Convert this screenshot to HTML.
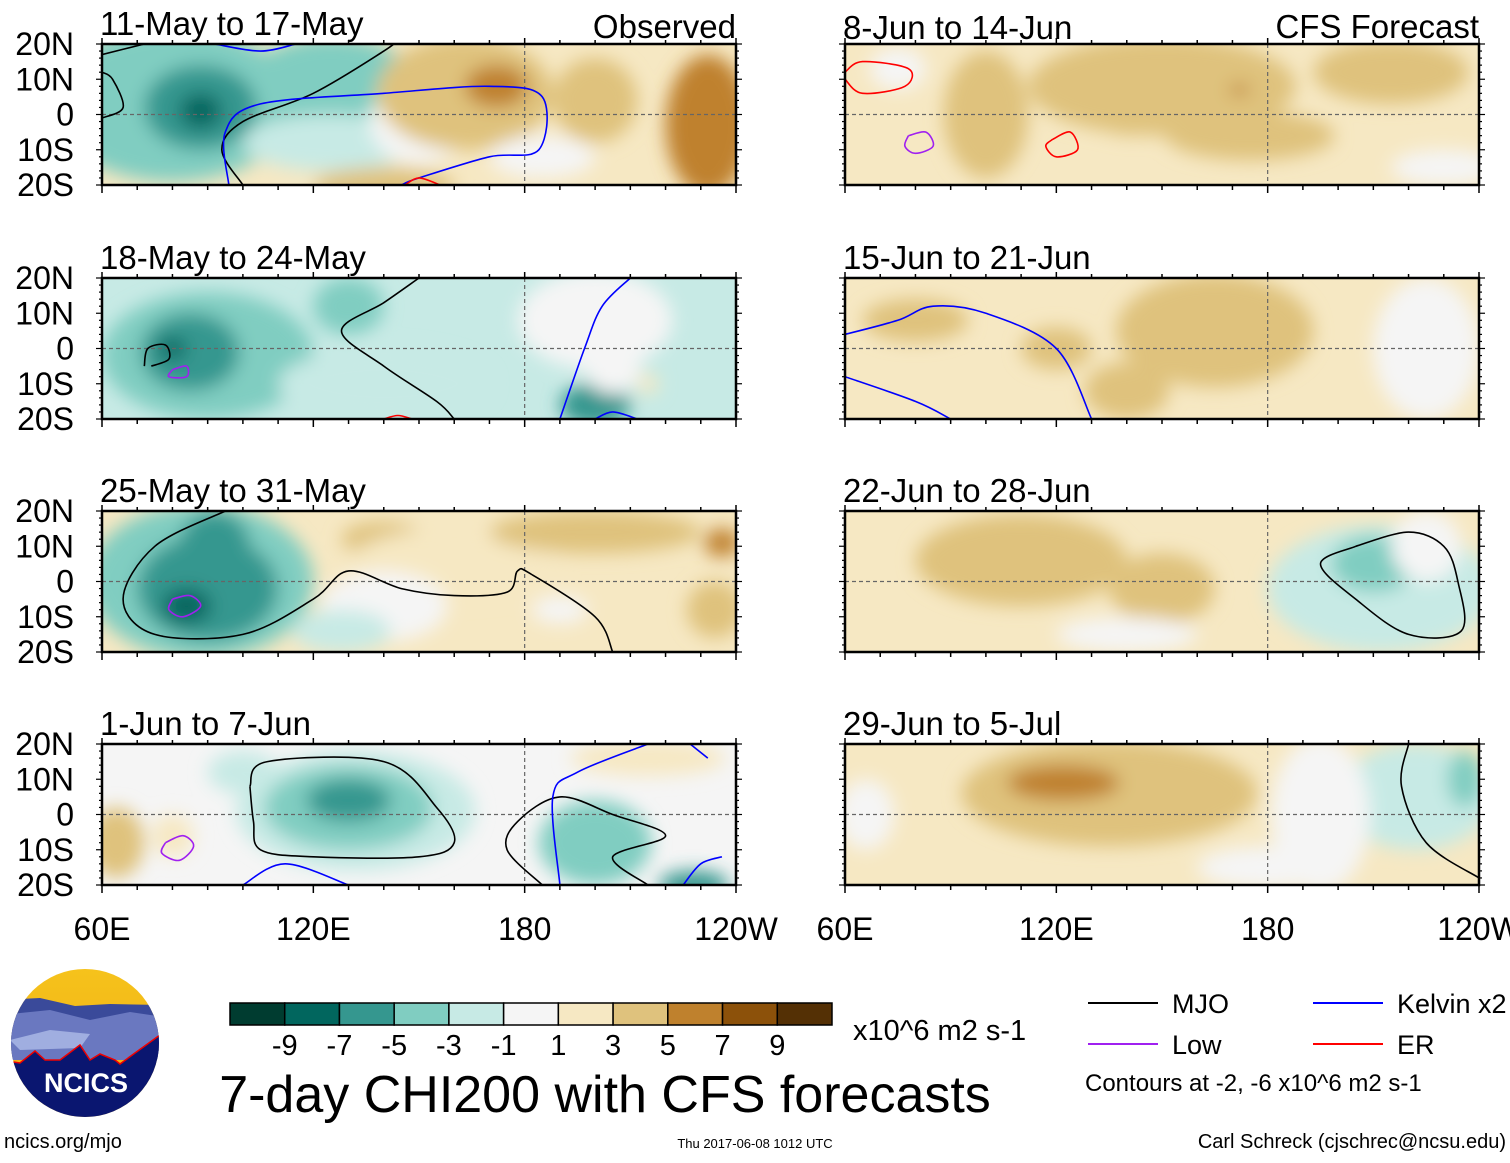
<!DOCTYPE html>
<html><head><meta charset="utf-8">
<style>
body{margin:0;background:#fff;width:1510px;height:1158px;overflow:hidden;font-family:"Liberation Sans",sans-serif}
svg text{font-family:"Liberation Sans",sans-serif}
</style></head>
<body>
<svg id="fig" width="1510" height="1158" viewBox="0 0 1510 1158">
<defs>
<filter id="blur" x="-20%" y="-20%" width="140%" height="140%"><feGaussianBlur stdDeviation="9"/></filter>
<clipPath id="cp"><rect x="0" y="0" width="634" height="141"/></clipPath>
<linearGradient id="sky" x1="0" y1="0" x2="0" y2="1"><stop offset="0" stop-color="#f6c41c"/><stop offset="1" stop-color="#eea812"/></linearGradient>
</defs>
<g id="panels"></g>
<g id="legend-area"></g>
</svg>
<script>
// Colorbar data
const cbLabels = ["-9","-7","-5","-3","-1","1","3","5","7","9"];
const cbColors = ["#003c30","#01665e","#35978f","#80cdc1","#c7eae5","#f5f5f5","#f6e8c3","#dfc27d","#bf812d","#8c510a","#543005"];
// Panel titles
const titles = ["11-May to 17-May","18-May to 24-May","25-May to 31-May","1-Jun to 7-Jun","8-Jun to 14-Jun","15-Jun to 21-Jun","22-Jun to 28-Jun","29-Jun to 5-Jul"];
// Anomaly blobs: [lon, lat, rxDeg, ryDeg, value]
const blobs1 = [[80,3,35,22,-4],[125,8,25,14,-4],[125,-8,25,8,-2],[88,2,16,12,-6],[88,1,6,5,-8],[150,-2,14,12,0],[163,6,25,16,4],[172,8,9,6,6],[200,4,12,12,4],[232,-3,12,20,6],[140,-20,20,5,4],[185,-12,15,6,0]];
const blobs2 = [[90,-2,30,18,-4],[85,-1,14,11,-6],[80,0,4,3,-8],[130,12,10,8,-4],[140,-10,30,10,-2],[200,-16,10,6,-6],[200,8,22,14,0],[205,-5,8,8,0],[215,-10,3,3,2]];
const blobs3 = [[88,0,32,22,-4],[90,-2,20,15,-6],[92,10,10,10,-6],[84,-7,7,5,-8],[140,12,12,5,4],[160,5,30,10,2],[200,14,30,6,4],[236,11,5,4,6],[234,-8,8,8,4],[140,-7,18,10,0],[190,-8,8,4,0],[128,-14,14,6,-2]];
const blobs4 = [[132,1,34,17,-2],[130,2,24,12,-4],[130,4,12,6,-6],[64,-8,8,10,4],[80,-6,6,6,2],[200,-8,16,12,-4],[228,-20,10,4,-6],[215,16,22,5,2],[100,12,10,6,-2]];
const blobs5 = [[150,8,38,14,4],[215,12,22,9,4],[100,0,12,18,4],[175,-6,24,7,4],[230,-15,15,5,0],[75,13,8,6,0],[172,7,3,1.5,6],[140,2,8,8,4]];
const blobs6 = [[165,5,28,16,4],[80,8,15,6,4],[140,-12,12,8,4],[225,0,15,20,0],[120,0,10,6,4]];
const blobs7 = [[110,6,30,13,4],[150,-2,15,10,4],[212,-2,32,18,-2],[210,5,12,8,-4],[225,10,10,10,0],[140,-15,20,5,0]];
const blobs8 = [[135,6,42,15,4],[122,9,16,5,6],[66,0,8,10,0],[222,5,22,15,-2],[236,10,5,8,-4],[195,0,14,22,0],[180,-15,20,6,0]];
const allBlobs=[blobs1,blobs2,blobs3,blobs4,blobs5,blobs6,blobs7,blobs8];
const bases=[2,-2,2,0,2,2,2,2];
// Contours: [type, [[lon,lat],...]]
const contours1=[["mjo",[[60,-1],[66,2],[63,10],[60,12]]],["mjo",[[60,17],[72,20]]],["mjo",[[100,-20],[94,-10],[100,-2],[120,6],[140,18],[145,22]]],["kelvin",[[96,-20],[95,-5],[105,3],[140,6],[170,8],[185,5],[184,-10],[170,-12],[150,-18],[145,-20]]],["kelvin",[[92,20],[105,18],[115,20]]],["er",[[146,-20],[150,-18],[156,-20]]]];
const contours2=[["mjo",[[150,20],[140,13],[128,5],[140,-5],[155,-15],[160,-20]]],["mjo",[[72,-5],[73,0],[78,1],[79,-3],[74,-5]]],["low",[[80,-6],[84,-5],[84,-8],[79,-8],[80,-6]]],["kelvin",[[210,20],[202,12],[197,0],[190,-20]]],["kelvin",[[200,-20],[205,-18],[212,-20]]],["er",[[140,-20],[144,-19],[148,-20]]]];
const contours3=[["mjo",[[95,20],[75,10],[66,-5],[75,-15],[100,-15],[120,-5],[130,3],[145,-2],[160,-4],[175,-3],[178,3],[182,2],[200,-10],[205,-20]]],["low",[[80,-5],[85,-4],[88,-7],[83,-10],[79,-8],[80,-5]]]];
const contours4=[["mjo",[[102,8],[107,15],[140,15],[155,2],[160,-8],[150,-12],[120,-12],[105,-10],[103,-2],[102,8]]],["mjo",[[185,-20],[175,-10],[178,-2],[190,5],[205,0],[220,-6],[205,-12],[215,-20]]],["low",[[78,-8],[83,-6],[86,-9],[82,-13],[77,-11],[78,-8]]],["kelvin",[[215,20],[195,12],[188,5],[190,-20]]],["kelvin",[[100,-20],[112,-14],[130,-20]]],["kelvin",[[227,20],[232,16]]],["kelvin",[[225,-20],[230,-14],[236,-12]]]];
const contours5=[["er",[[60,12],[65,15],[78,13],[77,8],[65,6],[60,10]]],["low",[[78,-6],[83,-5],[85,-9],[80,-11],[77,-9],[78,-6]]],["er",[[119,-7],[124,-5],[126,-10],[120,-12],[117,-9],[119,-7]]]];
const contours6=[["kelvin",[[60,4],[75,8],[85,12],[100,10],[120,0],[130,-20]]],["kelvin",[[60,-8],[80,-15],[90,-20]]]];
const contours7=[["mjo",[[205,10],[220,14],[230,10],[234,0],[235,-14],[220,-15],[205,-5],[195,5],[205,10]]]];
const contours8=[["mjo",[[220,20],[218,8],[225,-8],[240,-18]]]];
const allContours=[contours1,contours2,contours3,contours4,contours5,contours6,contours7,contours8];
const lineColors={mjo:"#000",low:"#a020f0",kelvin:"#0000ff",er:"#ff0000"};

const NS="http://www.w3.org/2000/svg";
function mk(t,a,p){const e=document.createElementNS(NS,t);for(const k in a)e.setAttribute(k,a[k]);if(p)p.appendChild(e);return e;}
function colorOf(v){let i=Math.floor((v+11)/2);i=Math.max(0,Math.min(10,i));return cbColors[i];}
const W=634,H=141;
const xs=lon=>(lon-60)/180*W;
const ys=lat=>(20-lat)/40*H;
function smooth(pts){
  let d='M'+pts[0][0].toFixed(1)+','+pts[0][1].toFixed(1);
  for(let i=0;i<pts.length-1;i++){
    const p0=pts[Math.max(0,i-1)],p1=pts[i],p2=pts[i+1],p3=pts[Math.min(pts.length-1,i+2)];
    const c1=[p1[0]+(p2[0]-p0[0])/6,p1[1]+(p2[1]-p0[1])/6],c2=[p2[0]-(p3[0]-p1[0])/6,p2[1]-(p3[1]-p1[1])/6];
    d+=` C${c1[0].toFixed(1)},${c1[1].toFixed(1)} ${c2[0].toFixed(1)},${c2[1].toFixed(1)} ${p2[0].toFixed(1)},${p2[1].toFixed(1)}`;
  }
  return d;
}
const panelX=[102,845],panelY=[44,278,511,744];
const root=document.getElementById('panels');
for(let p=0;p<8;p++){
  const col=p<4?0:1,row=p%4;
  const g=mk('g',{transform:`translate(${panelX[col]},${panelY[row]})`},root);
  
  
  const inner=mk('g',{'clip-path':'url(#cp)'},g);
  mk('rect',{x:0,y:0,width:W,height:H,fill:colorOf(bases[p])},inner);
  const bg=mk('g',{filter:'url(#blur)'},inner);
  allBlobs[p].forEach(b=>{
    const e=mk('ellipse',{cx:xs(b[0]),cy:ys(b[1]),rx:b[2]/180*W,ry:b[3]/40*H,fill:colorOf(b[4])},bg);
    
    
  });
  mk('line',{x1:0,y1:ys(0),x2:W,y2:ys(0),stroke:'#666','stroke-dasharray':'4,3','stroke-width':1.2},inner);
  mk('line',{x1:xs(180),y1:0,x2:xs(180),y2:H,stroke:'#666','stroke-dasharray':'4,3','stroke-width':1.2},inner);
  allContours[p].forEach(c=>{
    const d=smooth(c[1].map(q=>[xs(q[0]),ys(q[1])]));
    const e=mk('path',{d:d,fill:'none',stroke:lineColors[c[0]],'stroke-width':1.6,'stroke-linejoin':'round'},inner);
    
    
  });
  mk('rect',{x:0,y:0,width:W,height:H,fill:'none',stroke:'#000','stroke-width':2.5},g);
  for(let lon=60;lon<=240;lon+=10){
    const x=xs(lon),big=lon%60===0;
    mk('line',{x1:x,y1:0,x2:x,y2:big?-6:-4,stroke:'#000','stroke-width':1.5},g);
    mk('line',{x1:x,y1:H,x2:x,y2:H+(big?8:5),stroke:'#000','stroke-width':1.5},g);
  }
  for(let lat=-20;lat<=20;lat+=2){
    const y=ys(lat),big=lat%10===0;
    mk('line',{x1:0,y1:y,x2:-(big?6:3),y2:y,stroke:'#000','stroke-width':1.2},g);
    mk('line',{x1:W,y1:y,x2:W+(big?6:3),y2:y,stroke:'#000','stroke-width':1.2},g);
  }
  const t=mk('text',{x:-2,y:row===0&&col===1?-5:-9,'font-size':33,fill:'#000'},g);t.textContent=titles[p];
  
  
  if(col===0){
    ["20N","10N","0","10S","20S"].forEach((s,i)=>{
      const tt=mk('text',{x:-28,y:i*H/4+11,'font-size':32,'text-anchor':'end'},g);tt.textContent=s;
      
      
    });
  }
  if(row===3){
    ["60E","120E","180","120W"].forEach((s,i)=>{
      const tt=mk('text',{x:i*W/3,y:H+55,'font-size':32,'text-anchor':'middle'},g);tt.textContent=s;
      
      
    });
  }
}
const lg=document.getElementById('legend-area');
function txt(x,y,s,size,anchor,name){const t=mk('text',{x:x,y:y,'font-size':size,'text-anchor':anchor||'start'},lg);t.textContent=s;return t;}
txt(736,38,"Observed",33,"end","observed-label");
txt(1479,38,"CFS Forecast",33,"end","forecast-label");
const cbX=230,cbW=602/11;
cbColors.forEach((c,i)=>{const r=mk('rect',{x:cbX+i*cbW,y:1003,width:cbW,height:22,fill:c,stroke:'#000','stroke-width':1.5},lg);
 });
cbLabels.forEach((s,i)=>txt(cbX+(i+1)*cbW,1055,s,29,"middle","colorbar-tick"));
txt(853,1040,"x10^6 m2 s-1",29,"start","units-label");
txt(605,1112,"7-day CHI200 with CFS forecasts",52,"middle","figure-title");
[["MJO",1088,1003,"mjo"],["Low",1088,1044,"low"],["Kelvin x2",1313,1003,"kelvin"],["ER",1313,1044,"er"]].forEach(l=>{
 const ln=mk('line',{x1:l[1],y1:l[2],x2:l[1]+70,y2:l[2],stroke:lineColors[l[3]],'stroke-width':2},lg);
 
 txt(l[1]+84,l[2]+10,l[0],27,"start","legend-entry");
});
txt(1085,1091,"Contours at -2, -6 x10^6 m2 s-1",24,"start","contour-note");
txt(4,1148,"ncics.org/mjo",20,"start","url-label");
txt(755,1148,"Thu 2017-06-08 1012 UTC",13,"middle","timestamp");
txt(1506,1148,"Carl Schreck (cjschrec@ncsu.edu)",20,"end","author-credit");
const logo=mk('g',{},lg);
mk('clipPath',{id:'lc'},logo).appendChild(mk('circle',{cx:85,cy:1043,r:74}));
const lgc=mk('g',{'clip-path':'url(#lc)'},logo);
mk('rect',{x:0,y:960,width:170,height:170,fill:'url(#sky)'},lgc);
mk('path',{d:'M0,1000 L40,998 L75,1006 L110,1004 L160,1005 L170,1060 L0,1060Z',fill:'#3a4a9a'},lgc);
mk('path',{d:'M0,1015 L50,1010 L90,1020 L130,1012 L170,1018 L170,1060 L0,1060Z',fill:'#6a78c0'},lgc);
mk('path',{d:'M10,1040 L50,1030 L90,1034 L80,1048 L20,1050Z',fill:'#a0aee0'},lgc);
mk('path',{d:'M0,1060 L20,1063 L35,1051 L45,1060 L60,1060 L80,1045 L90,1060 L100,1054 L115,1060 L120,1064 L135,1053 L160,1035 L170,1035 L170,1130 L0,1130Z',fill:'#0a1670',stroke:'#e00','stroke-width':1.5},lgc);
const lt=mk('text',{x:86,y:1092,'font-size':27,'font-weight':'bold','text-anchor':'middle',fill:'#fff'},logo);lt.textContent="NCICS";
</script>
</body></html>
